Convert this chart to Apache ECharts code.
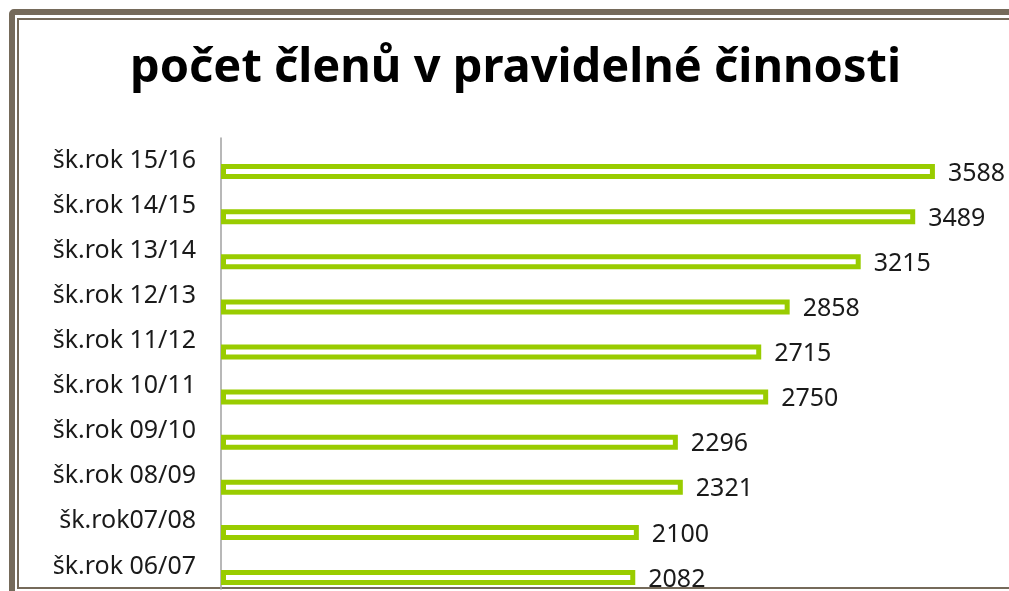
<!DOCTYPE html>
<html>
<head>
<meta charset="utf-8">
<script src="https://cdn.jsdelivr.net/npm/echarts@6/dist/echarts.min.js"></script>
<style>
	html, body { margin: 0; padding: 0; background: #fff; overflow: hidden; }
	#frameOuter { position: absolute; left: 9px; top: 9px; width: 1100px; height: 700px;
		border: 6px solid #756a5a; border-radius: 5px; box-sizing: border-box; }
	#frameInner { position: absolute; left: 17px; top: 18px; width: 1100px; height: 571px;
		border: 2px solid #756a5a; box-sizing: border-box; }
	#chart { position: absolute; left: 0; top: 0; width: 1009px; height: 591px; }
</style>
</head>
<body>
<div id="frameOuter"></div>
<div id="frameInner"></div>
<div id="chart"></div>
<script>
// 카테고리 (아래 -> 위)
var categories = ['šk.rok 06/07', 'šk.rok07/08', 'šk.rok 08/09', 'šk.rok 09/10', 'šk.rok 10/11',
	'šk.rok 11/12', 'šk.rok 12/13', 'šk.rok 13/14', 'šk.rok 14/15', 'šk.rok 15/16'];
// 회원 수
var members = [2082, 2100, 2321, 2296, 2750, 2715, 2858, 3215, 3489, 3588];
// 빈 시리즈 (엑셀 원본의 두번째 계열 자리)
var emptySeries = [null, null, null, null, null, null, null, null, null, null];

var titleText = 'počet členů v pravidelné činnosti';

function showMembersChart() {
	var chart = echarts.init(document.getElementById('chart'));
	var option = {
		animation: false,
		title: {
			text: titleText,
			left: 125,
			top: 40,
			textStyle: {
				fontFamily: 'Noto Sans',
				fontSize: 47,
				fontWeight: 'bold',
				color: '#000'
			}
		},
		grid: {
			left: 221,
			top: 138,
			height: 451,
			width: 776
		},
		xAxis: {
			type: 'value',
			min: 0,
			max: 3900,
			show: false
		},
		yAxis: {
			type: 'category',
			data: categories,
			axisLine: { show: true, lineStyle: { color: '#a0a0a0', width: 1.5 } },
			axisTick: { show: false },
			axisLabel: {
				margin: 25,
				fontFamily: 'Noto Sans',
				fontSize: 25,
				color: '#1a1a1a'
			}
		},
		series: [
			{
				name: 'empty',
				type: 'bar',
				data: emptySeries,
				barWidth: 15
			},
			{
				name: 'members',
				type: 'bar',
				data: members,
				barWidth: 15,
				barGap: '47%',
				itemStyle: {
					color: '#ffffff',
					borderColor: '#99cc00',
					borderWidth: 5
				},
				label: {
					show: true,
					position: 'right',
					distance: 13,
					offset: [0, 2],
					fontFamily: 'Noto Sans',
					fontSize: 25,
					color: '#1a1a1a'
				}
			}
		]
	};
	chart.setOption(option);
}

showMembersChart();
</script>
</body>
</html>
